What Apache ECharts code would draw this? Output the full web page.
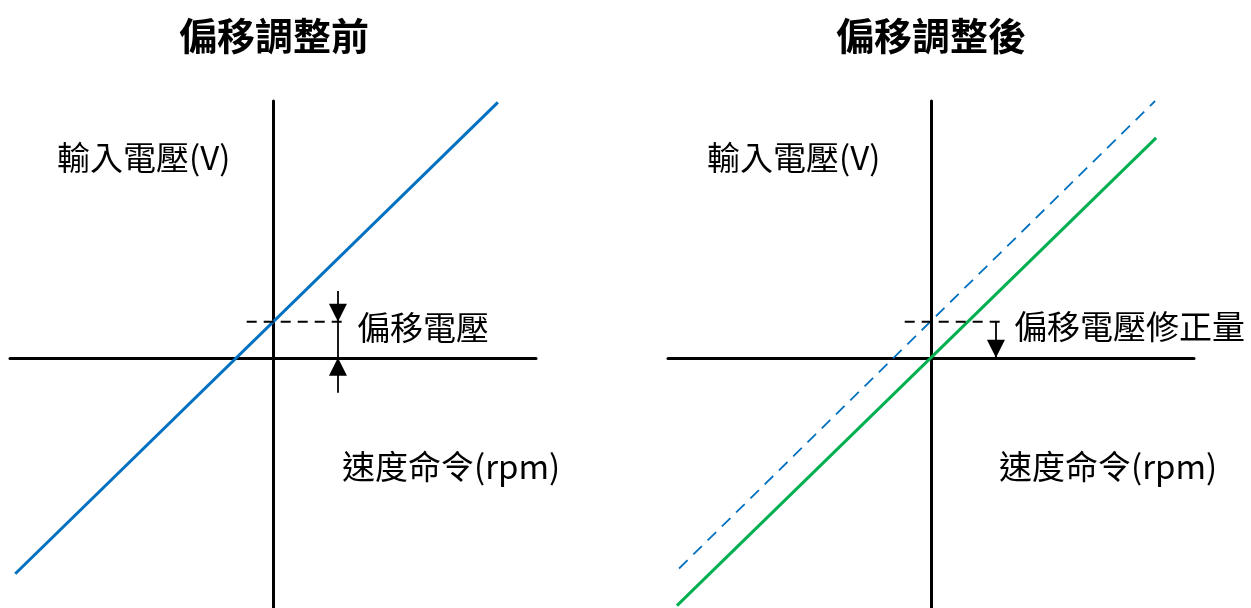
<!DOCTYPE html>
<html>
<head>
<meta charset="utf-8">
<script src="https://cdn.jsdelivr.net/npm/echarts@6/dist/echarts.min.js"></script>
<style>
html,body{margin:0;padding:0;background:#fff;}
#chart{width:1251px;height:608px;}
</style>
</head>
<body>
<div id="chart"></div>
<script>
// axis ranges (speed command / input voltage, arbitrary units)
const speedRange = [-10, 10];
const voltRange = [-9.5, 9.75];
const offsetVolt = 1.37;

// before adjustment
const beforeLine = [[-9.8, -8.2], [8.55, 9.7]];
const beforeGuide = [[-1.0, offsetVolt], [2.85, offsetVolt]];
const beforeArrowX = 2.47;
const beforeArrowTop = 2.54;
const beforeArrowBottom = -1.33;

// after adjustment
const afterOriginal = [[-9.58, -8.0], [8.52, 9.75]];
const afterCorrected = [[-9.66, -9.41], [8.56, 8.35]];
const afterGuide = [[-1.0, offsetVolt], [2.62, offsetVolt]];
const afterArrowX = 2.47;

const titles = ['偏移調整前', '偏移調整後'];
const yName = '輸入電壓(V)';
const xName = '速度命令(rpm)';
const offsetLabels = ['偏移電壓', '偏移電壓修正量'];

const font = '"Noto Sans CJK TC", "Noto Sans CJK SC", sans-serif';
const chart = echarts.init(document.getElementById('chart'));

function axisX(gi){
    return {
        type:'value', gridIndex:gi, min:speedRange[0], max:speedRange[1],
        axisLine:{show:true, onZero:true, lineStyle:{color:'#000', width:3}},
        axisTick:{show:false}, axisLabel:{show:false}, splitLine:{show:false}
    };
}
function axisY(gi){
    return {
        type:'value', gridIndex:gi, min:voltRange[0], max:voltRange[1],
        axisLine:{show:true, onZero:true, lineStyle:{color:'#000', width:3}},
        axisTick:{show:false}, axisLabel:{show:false}, splitLine:{show:false}
    };
}
// arrow head tip sits on the "to" point
function arrow(from, to){
    return [
        {coord:from, symbol:'none'},
        {coord:to, symbol:'triangle', symbolOffset:[0,'50%']}
    ];
}
function txt(x, y, s, size, bold, align){
    return {
        type:'text', x:x, y:y,
        style:{text:s, fontSize:size, fontWeight:bold ? 'bold' : 'normal', fontFamily:font,
            fill:'#000', align:align || 'left', verticalAlign:'middle'}
    };
}

const option = {
    animation:false,
    grid:[
        {left:10, top:101, width:526, height:507},
        {left:668, top:101, width:526, height:507}
    ],
    xAxis:[axisX(0), axisX(1)],
    yAxis:[axisY(0), axisY(1)],
    series:[
        {
            type:'line', xAxisIndex:0, yAxisIndex:0, data:beforeLine, symbol:'none',
            lineStyle:{color:'#0070C0', width:3}, z:3
        },
        {
            type:'line', xAxisIndex:0, yAxisIndex:0, data:beforeGuide, symbol:'none',
            lineStyle:{color:'#000', width:2, type:[10,7]}, z:4,
            markLine:{
                silent:true, symbol:['none','triangle'], symbolSize:[18,18],
                label:{show:false}, lineStyle:{color:'#000', width:1.8, type:'solid'},
                data:[
                    arrow([beforeArrowX, beforeArrowTop], [beforeArrowX, offsetVolt]),
                    arrow([beforeArrowX, beforeArrowBottom], [beforeArrowX, 0]),
                    [{coord:[beforeArrowX, offsetVolt], symbol:'none'}, {coord:[beforeArrowX, 0], symbol:'none'}]
                ]
            }
        },
        {
            type:'line', xAxisIndex:1, yAxisIndex:1, data:afterOriginal, symbol:'none',
            lineStyle:{color:'#0070C0', width:1.8, type:[12,8]}, z:3
        },
        {
            type:'line', xAxisIndex:1, yAxisIndex:1, data:afterCorrected, symbol:'none',
            lineStyle:{color:'#00B050', width:3}, z:3
        },
        {
            type:'line', xAxisIndex:1, yAxisIndex:1, data:afterGuide, symbol:'none',
            lineStyle:{color:'#000', width:2, type:[10,7]}, z:4,
            markLine:{
                silent:true, symbol:['none','triangle'], symbolSize:[18,18],
                label:{show:false}, lineStyle:{color:'#000', width:1.8, type:'solid'},
                data:[arrow([afterArrowX, offsetVolt], [afterArrowX, 0])]
            }
        }
    ],
    graphic:[
        txt(274, 36, titles[0], 38, true, 'center'),
        txt(931, 36, titles[1], 38, true, 'center'),
        txt(57, 157, yName, 33),
        txt(342, 466, xName, 33),
        txt(357, 327, offsetLabels[0], 33),
        txt(707, 157, yName, 33),
        txt(999, 466, xName, 33),
        txt(1014, 326, offsetLabels[1], 33)
    ]
};
chart.setOption(option);
</script>
</body>
</html>
